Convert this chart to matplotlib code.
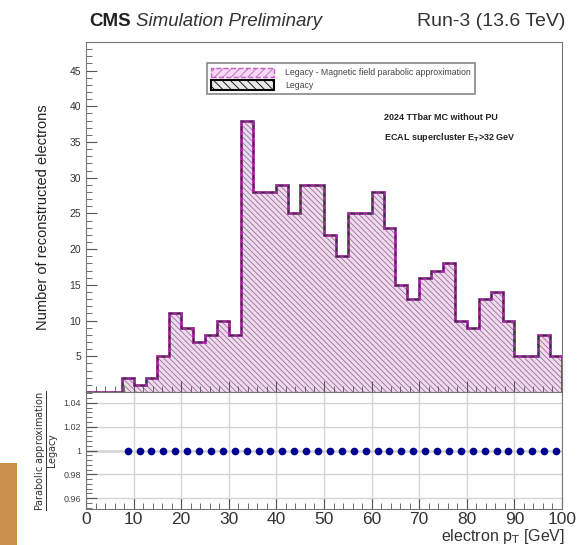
import numpy as np
import matplotlib
matplotlib.use('Agg')
import matplotlib.pyplot as plt
from matplotlib.patches import Patch, Rectangle
from matplotlib.ticker import MultipleLocator, FixedLocator

plt.rcParams['font.family'] = ['Liberation Sans', 'DejaVu Sans']
plt.rcParams['hatch.linewidth'] = 0.6

# histogram content, 40 bins of 2.5 GeV between 0 and 100
bin_edges = np.linspace(0, 100, 41)
legacy = [0, 0, 0, 2, 1, 2, 5, 11, 9, 7,
          8, 10, 8, 38, 28, 28, 29, 25, 29, 29,
          22, 19, 25, 25, 28, 23, 15, 13, 16, 17,
          18, 10, 9, 13, 14, 10, 5, 5, 8, 5]
parabolic = list(legacy)  # identical in this sample
y_ticks_ratio = [0.96, 0.98, 1.0, 1.02, 1.04]
y_ticklabels_ratio = ['0.96', '0.98', '1', '1.02', '1.04']

legacy = np.array(legacy, dtype=float)
parabolic = np.array(parabolic, dtype=float)
centers = 0.5 * (bin_edges[1:] + bin_edges[:-1])
mask = legacy > 0
ratio = parabolic[mask] / legacy[mask]

fig = plt.figure(figsize=(5.79, 5.45), dpi=100)
W, H = 579, 545
def rect(l, t, r, b):
    return [l / W, 1 - b / H, (r - l) / W, (b - t) / H]

ax1 = fig.add_axes(rect(86, 42, 562, 392))
ax2 = fig.add_axes(rect(86, 392, 562, 509), sharex=ax1)

purple = '#9a2a9a'
ax1.hist(bin_edges[:-1], bins=bin_edges, weights=parabolic, histtype='stepfilled',
         facecolor='#f4d8f2', edgecolor='none', linewidth=0)
ax1.hist(bin_edges[:-1], bins=bin_edges, weights=legacy, histtype='stepfilled',
         facecolor='none', edgecolor='#8a7a8a', hatch='\\\\\\\\\\\\', linewidth=0)
ax1.hist(bin_edges[:-1], bins=bin_edges, weights=parabolic, histtype='step',
         color=purple, linewidth=2.0)
ax1.hist(bin_edges[:-1], bins=bin_edges, weights=legacy, histtype='step',
         color='#333333', linewidth=1.0, linestyle=(0, (3, 3)))

ax1.set_xlim(0, 100)
ax1.set_ylim(0, 49)
ax1.yaxis.set_major_locator(FixedLocator([5, 10, 15, 20, 25, 30, 35, 40, 45]))
ax1.yaxis.set_minor_locator(MultipleLocator(1))
ax1.xaxis.set_major_locator(MultipleLocator(10))
ax1.xaxis.set_minor_locator(MultipleLocator(2))
ax1.tick_params(axis='x', labelbottom=False)
ax1.tick_params(which='both', direction='in', color='#555555')
ax1.tick_params(which='major', length=8, labelsize=7.5, labelcolor='#333333')
ax1.tick_params(which='minor', length=4)
ax1.set_ylabel('Number of reconstructed electrons', fontsize=10.5, color='#222222', labelpad=14)
for s in ax1.spines.values():
    s.set_color('#777777')

handles = [
    Patch(facecolor='#f6d8f4', edgecolor='#c060c0', hatch='////', linestyle='--', linewidth=1.0),
    Patch(facecolor='#e8e8e8', edgecolor='black', hatch='\\\\\\\\', linewidth=1.5),
]
leg = ax1.legend(handles, ['Legacy - Magnetic field parabolic approximation', 'Legacy'],
                 loc='upper left', bbox_to_anchor=(0.245, 0.952), fontsize=6.3,
                 handlelength=7.2, handleheight=1.3, fancybox=False, framealpha=1,
                 edgecolor='#888888', borderpad=0.5, labelspacing=0.35,
                 handletextpad=1.2)
leg.get_frame().set_linewidth(1.2)
for t in leg.get_texts():
    t.set_color('#444444')

ax1.text(0.625, 0.784, '2024 TTbar MC without PU', transform=ax1.transAxes,
         fontsize=6.5, fontweight='bold', color='#222222', va='center')
ax1.text(0.625, 0.727, r'ECAL supercluster E$_{\mathbf{T}}$>32 GeV', transform=ax1.transAxes,
         fontsize=6.5, fontweight='bold', color='#222222', va='center')

# ratio panel
ax2.axhline(1.0, color='#666666', linewidth=1.0, zorder=1)
ax2.plot(centers[mask], ratio, 'o', color='#000090', markersize=4.5, zorder=3)
ax2.set_ylim(0.951, 1.049)
ax2.yaxis.set_major_locator(FixedLocator(y_ticks_ratio))
ax2.set_yticklabels(y_ticklabels_ratio)
ax2.yaxis.set_minor_locator(MultipleLocator(0.004))
ax2.grid(True, which='major', color='#d4d4d4', linewidth=1.0)
ax2.tick_params(which='both', direction='in', color='#555555')
ax2.tick_params(axis='y', which='major', length=8, labelsize=6.5, labelcolor='#444444')
ax2.tick_params(axis='x', which='major', length=8, labelsize=12.5, labelcolor='#333333', pad=2)
ax2.tick_params(which='minor', length=4)
ax2.set_ylabel(r'$\frac{\mathrm{Parabolic\ approximation}}{\mathrm{Legacy}}$',
               fontsize=10, color='#333333', labelpad=2)
for s in ax2.spines.values():
    s.set_color('#777777')

fig.text(565 / W, 1 - 537 / H, r'electron p$_{\mathrm{T}}$ [GeV]', ha='right', va='center',
         fontsize=11.5, color='#333333')

fig.text(89 / W, 1 - 22 / H, 'CMS', fontsize=13.5, fontweight='bold', va='center', color='#222222')
fig.text(136 / W, 1 - 22 / H, 'Simulation Preliminary', fontsize=13.5, style='italic',
         va='center', color='#333333')
fig.text(565 / W, 1 - 22 / H, 'Run-3 (13.6 TeV)', fontsize=14, ha='right',
         va='center', color='#333333')

fig.patches.append(Rectangle((0, 0), 17 / W, 82 / H, transform=fig.transFigure,
                             facecolor='#c8904a', edgecolor='none'))

fig.savefig('out.png', dpi=100)
